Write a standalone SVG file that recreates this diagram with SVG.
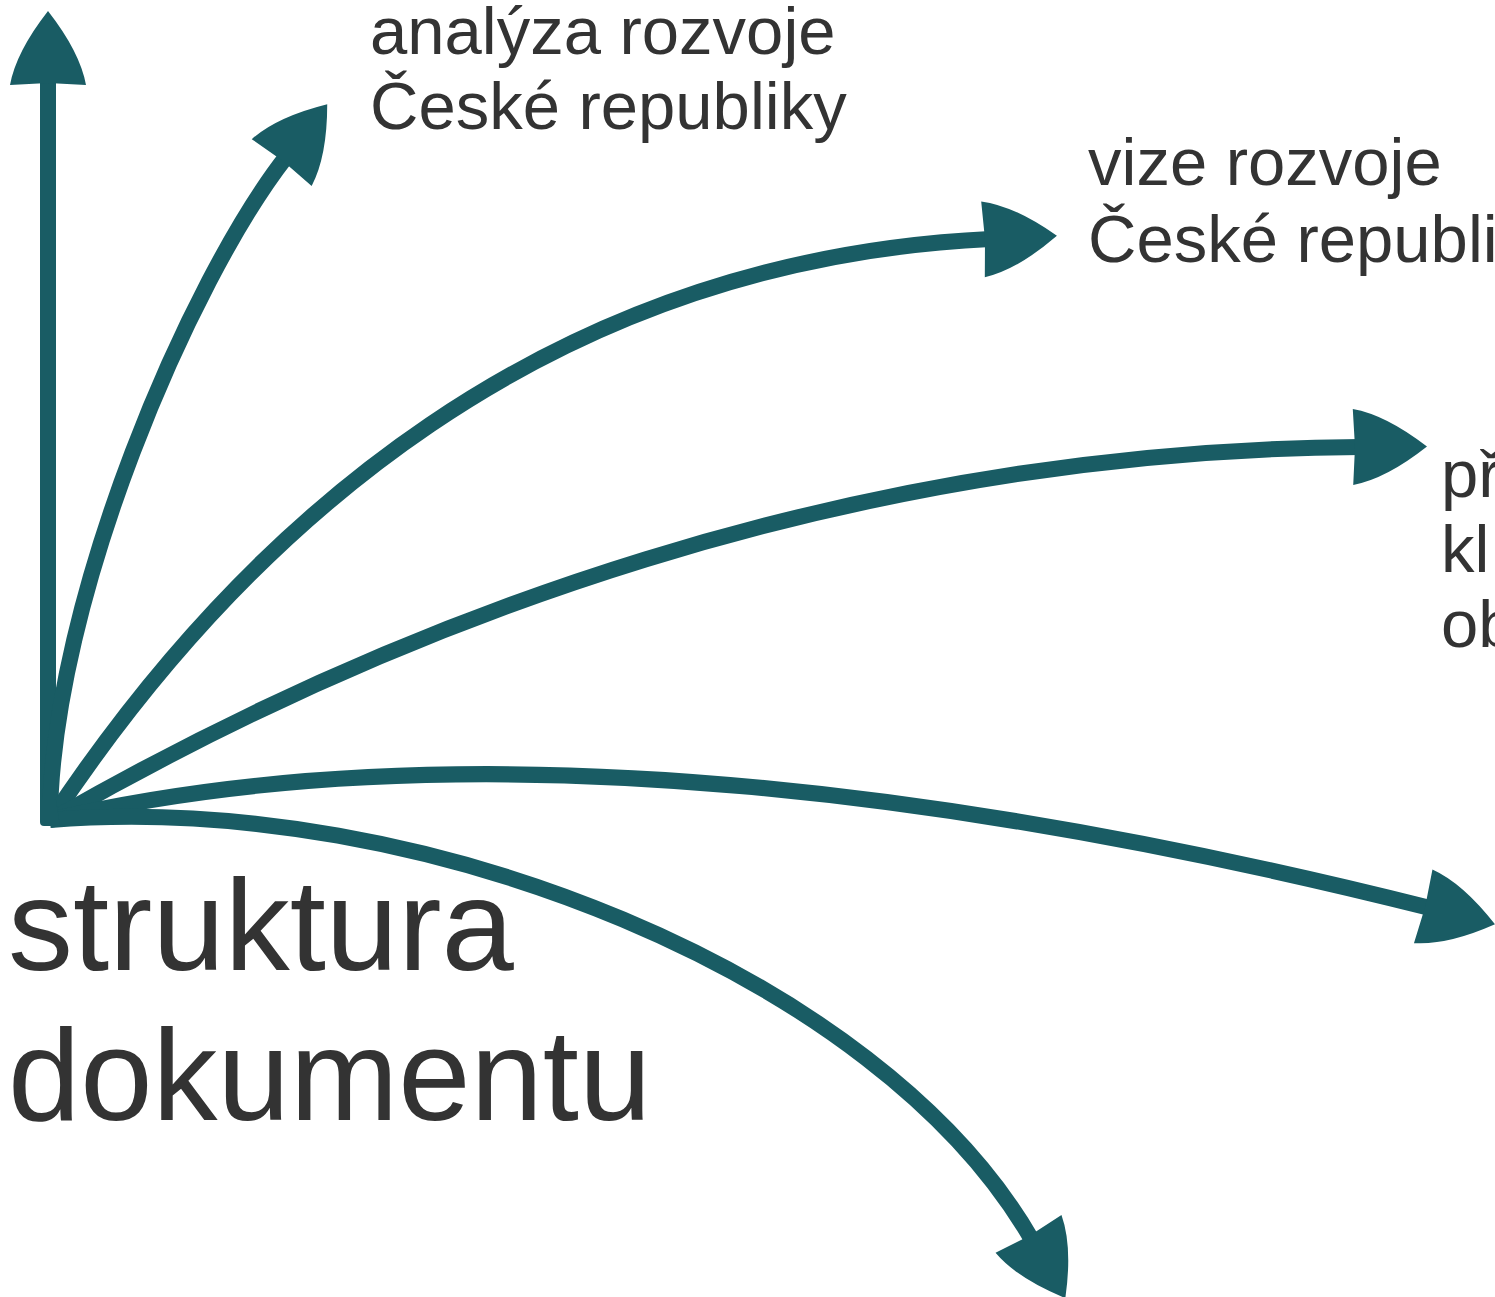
<svg xmlns="http://www.w3.org/2000/svg" width="1495" height="1297" viewBox="0 0 1495 1297">
<style>
.c{fill:none;stroke:#195c64;stroke-width:16}
.t{font-family:"Liberation Sans",Arial,sans-serif;fill:#333333}
.s{font-size:67px}
.b{font-size:130px}
</style>
<defs>
<marker id="ah" markerUnits="userSpaceOnUse" viewBox="-12 -42 92 84" refX="0" refY="0" markerWidth="92" markerHeight="84" orient="auto" overflow="visible">
<path d="M 67,0 Q 26,-32 -7,-38 L -5,0 L -7,38 Q 26,32 67,0 Z" fill="#195c64"/>
</marker>
</defs>
<rect width="1495" height="1297" fill="#ffffff"/>
<g id="connectors">
<path class="c" d="M 48,822 L 48,78" marker-end="url(#ah)"/>
<path class="c" d="M 50,818 C 52,600 190,280 286,157" marker-end="url(#ah)"/>
<path class="c" d="M 52,818 C 250,520 550,260 990,239" marker-end="url(#ah)"/>
<path class="c" d="M 55,818 C 400,620 850,450 1360,447" marker-end="url(#ah)"/>
<path class="c" d="M 50,820 C 480,720 1000,800 1430,908" marker-end="url(#ah)"/>
<path class="c" d="M 50,820 C 420,790 880,975 1032,1240" marker-end="url(#ah)"/>
<path d="M 40,800 L 56,800 L 60,826 L 44,826 Q 40,826 40,822 Z" fill="#195c64"/>
</g>
<g id="root">
<text class="t b" x="8" y="970">struktura</text>
<text class="t b" x="8" y="1120">dokumentu</text>
</g>
<g id="n1">
<text class="t s" x="370" y="54">analýza rozvoje</text>
<text class="t s" x="370" y="129">České republiky</text>
</g>
<g id="n2">
<text class="t s" x="1088" y="185">vize rozvoje</text>
<text class="t s" x="1088" y="262">České republi</text>
</g>
<g id="n3">
<text class="t s" x="1441" y="497">př</text>
<text class="t s" x="1441" y="572">kl</text>
<text class="t s" x="1441" y="647">ob</text>
</g>
</svg>
